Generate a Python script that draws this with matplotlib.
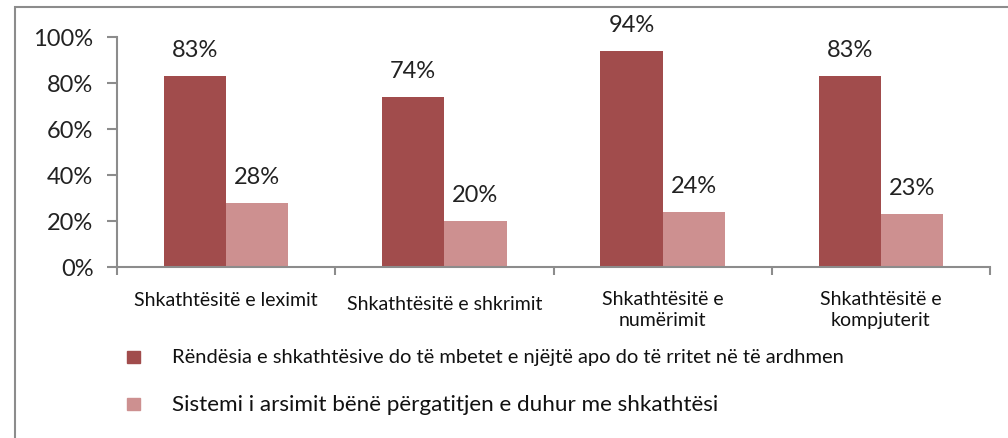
import matplotlib.pyplot as plt
from matplotlib.patches import Rectangle
import numpy as np

categories = ['Shkathtësitë e leximit', 'Shkathtësitë e shkrimit',
              'Shkathtësitë e\nnumërimit', 'Shkathtësitë e\nkompjuterit']
importance = [83, 74, 94, 83]
preparation = [28, 20, 24, 23]
series_names = ['Rëndësia e shkathtësive do të mbetet e njëjtë apo do të rritet në të ardhmen',
                'Sistemi i arsimit bënë përgatitjen e duhur me shkathtësi']
colors = ['#A14C4C', '#CD9090']

plt.rcParams['font.family'] = ['Lato', 'DejaVu Sans']

W, H = 1008, 439
fig = plt.figure(figsize=(W / 100, H / 100), dpi=100)

# outer chart frame (only left and top visible)
fig.patches.append(Rectangle((15 / W, -0.1), 1.2, (H - 8) / H + 0.1, transform=fig.transFigure,
                             fill=False, edgecolor='#8c8c8c', linewidth=1.5))

ax = fig.add_axes([117 / W, (H - 268) / H, (990 - 117) / W, (268 - 38) / H])
x = np.arange(len(categories))
w = 0.285
ax.bar(x - w / 2, importance, w, color=colors[0])
ax.bar(x + w / 2, preparation, w, color=colors[1])

for xi, v in zip(x, importance):
    ax.annotate(f'{v}%', (xi - w / 2, v), xytext=(0, 19), textcoords='offset points',
                ha='center', va='center', fontsize=17, color='#222222')
for xi, v in zip(x, preparation):
    ax.annotate(f'{v}%', (xi + w / 2, v), xytext=(0, 19), textcoords='offset points',
                ha='center', va='center', fontsize=17, color='#222222')

ax.set_xlim(-0.5, len(categories) - 0.5)
ax.set_ylim(0, 100)
ax.set_yticks(range(0, 101, 20))
ax.set_yticklabels([f'{t}%' for t in range(0, 101, 20)], fontsize=17, color='#222222')
ax.set_xticks(np.arange(-0.5, len(categories), 1))
ax.set_xticklabels([])
ax.tick_params(axis='y', length=7, width=1.5, color='#8c8c8c', pad=10)
ax.tick_params(axis='x', length=6, width=1.5, color='#8c8c8c')
for s in ['top', 'right']:
    ax.spines[s].set_visible(False)
for s in ['left', 'bottom']:
    ax.spines[s].set_color('#8c8c8c')
    ax.spines[s].set_linewidth(1.5)

label_y = [300, 305, 310, 310]
for xi, lab, ly in zip(x, categories, label_y):
    ax.text(xi, 1 - (ly - 38) / (268 - 38), lab, transform=ax.get_xaxis_transform(),
            ha='center', va='center', fontsize=14, color='#111111', linespacing=1.3)

# legend
leg_y = [358, 405]
leg_fs = [14.5, 16.2]
for c, name, ly, fs in zip(colors, series_names, leg_y, leg_fs):
    fig.patches.append(Rectangle((127 / W, (H - ly - 6) / H), 13 / W, 12 / H,
                                 transform=fig.transFigure, color=c))
    fig.text(172 / W, (H - ly) / H, name, ha='left', va='center',
             fontsize=fs, color='#111111')

fig.savefig('out.png', dpi=100)
